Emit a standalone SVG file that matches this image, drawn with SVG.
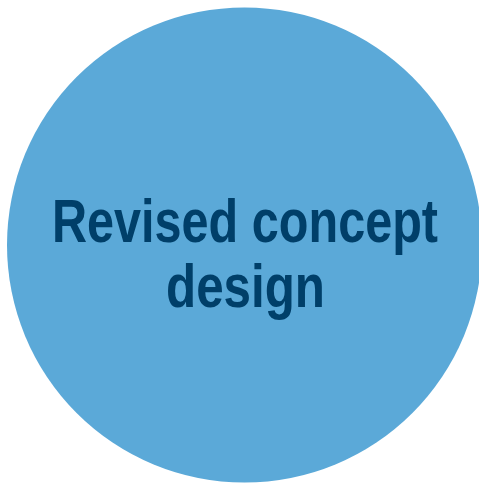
<svg xmlns="http://www.w3.org/2000/svg" width="479" height="484" viewBox="0 0 479 484">
<style>
.lbl{font-family:"Liberation Sans Narrow","Liberation Sans",Arial,sans-serif;font-weight:bold;font-size:62px;fill:#003F69;text-anchor:middle}
</style>
<g id="node-revised">
<circle cx="244.5" cy="245" r="237.5" fill="#5BA9D8"/>
<text class="lbl" x="245" y="242" textLength="386" lengthAdjust="spacingAndGlyphs">Revised concept</text>
<text class="lbl" x="245.5" y="307" textLength="159" lengthAdjust="spacingAndGlyphs">design</text>
</g>
<g id="connectors"/>
</svg>
